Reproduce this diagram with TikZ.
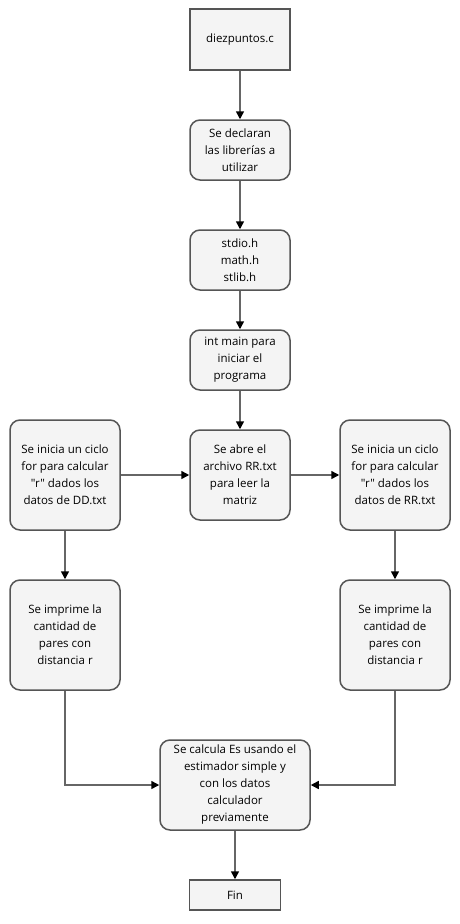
\documentclass[tikz,border=0pt]{standalone}
\usepackage{fontspec}
\setmainfont{Open Sans}[Ligatures=TeXOff]
\usetikzlibrary{arrows.meta}
\definecolor{boxfill}{HTML}{F4F4F4}
\definecolor{boxline}{HTML}{555555}
\definecolor{arrline}{HTML}{666666}
\tikzset{
  block/.style={draw=boxline, fill=boxfill, line width=1.5pt, align=center,
    inner sep=0pt, font=\fontsize{11.5}{17}\selectfont},
  roundblock/.style={block, rounded corners=10pt},
  flow/.style={draw=arrline, line width=1.5pt,
    -{Triangle[length=8pt,width=8pt,fill=black,color=black]}},
}

\begin{document}
\begin{tikzpicture}[x=1pt,y=-1pt]
  \useasboundingbox (0,0) rectangle (460,924);

  \node[block, minimum width=100pt, minimum height=61pt] (source) at (240,39.5) {diezpuntos.c};
  \node[roundblock, minimum width=100pt, minimum height=60pt] (decl) at (240,150) {Se declaran\\las librerías a\\utilizar};
  \node[roundblock, minimum width=100pt, minimum height=60pt] (libs) at (240,260) {stdio.h\\math.h\\stlib.h};
  \node[roundblock, minimum width=100pt, minimum height=60pt] (main) at (240,360) {int main para\\iniciar el\\programa};
  \node[roundblock, minimum width=100pt, minimum height=90pt] (open) at (240,475) {Se abre el\\archivo RR.txt\\para leer la\\matriz};

  % ciclos y conteos, uno por archivo
  \foreach \x/\f in {65/DD,395/RR} {
    \node[roundblock, minimum width=110pt, minimum height=110pt] (loop\f) at (\x,475)
      {Se inicia un ciclo\\for para calcular\\"r" dados los\\datos de \f.txt};
    \node[roundblock, minimum width=110pt, minimum height=110pt] (print\f) at (\x,635)
      {Se imprime la\\cantidad de\\pares con\\distancia r};
  }

  \node[roundblock, minimum width=150pt, minimum height=90pt] (calc) at (235,785)
    {Se calcula Es usando el\\estimador simple y\\con los datos\\calculador\\previamente};
  \node[block, minimum width=91pt, minimum height=30pt] (end) at (235,895) {Fin};

  \draw[flow] (source) -- (decl);
  \draw[flow] (decl) -- (libs);
  \draw[flow] (libs) -- (main);
  \draw[flow] (main) -- (open);
  \draw[flow] (loopDD) -- (open);
  \draw[flow] (open) -- (loopRR);
  \draw[flow] (loopDD) -- (printDD);
  \draw[flow] (loopRR) -- (printRR);
  \draw[flow] (printDD.south) |- (calc.west);
  \draw[flow] (printRR.south) |- (calc.east);
  \draw[flow] (calc) -- (end);
\end{tikzpicture}
\end{document}
